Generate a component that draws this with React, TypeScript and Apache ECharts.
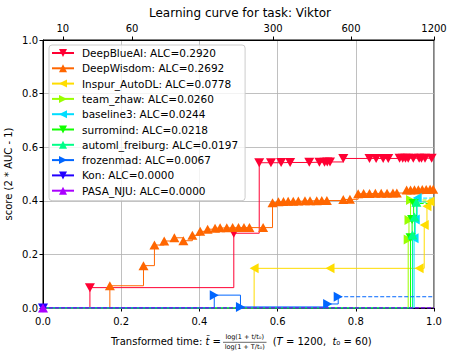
import React, { useEffect, useRef } from "react";
import * as echarts from "echarts";

// ---- data ----
const T_MAX = 1200;
const T0 = 60;
const topTickTimes = [10, 60, 300, 600, 1200];
const xTickLabels = ["0.0", "0.2", "0.4", "0.6", "0.8", "1.0"];
const yTickLabels = ["0.0", "0.2", "0.4", "0.6", "0.8", "1.0"];

const teamNames = [
  "DeepBlueAI: ALC=0.2920",
  "DeepWisdom: ALC=0.2692",
  "Inspur_AutoDL: ALC=0.0778",
  "team_zhaw: ALC=0.0260",
  "baseline3: ALC=0.0244",
  "surromind: ALC=0.0218",
  "automl_freiburg: ALC=0.0197",
  "frozenmad: ALC=0.0067",
  "Kon: ALC=0.0000",
  "PASA_NJU: ALC=0.0000",
];
const teamColors = [
  "#ff0033", "#ff6600", "#ffdd00", "#99ff00", "#00ddff",
  "#11ff00", "#00ff88", "#0066ff", "#2200ff", "#aa00ff",
];
const teamMarkers = ["down", "up", "left", "right", "left", "down", "up", "right", "down", "up"];

const deepBlueAiX = [0.12, 0.488, 0.553, 0.583, 0.609, 0.632, 0.681, 0.707, 0.72, 0.727, 0.734, 0.768, 0.835, 0.852, 0.87, 0.883, 0.912, 0.92, 0.927, 0.934, 0.947, 0.962, 0.968, 0.977, 0.994];
const deepBlueAiY = [0.076, 0.279, 0.542, 0.542, 0.543, 0.543, 0.544, 0.544, 0.544, 0.545, 0.545, 0.558, 0.558, 0.558, 0.558, 0.558, 0.559, 0.559, 0.559, 0.559, 0.559, 0.559, 0.559, 0.559, 0.559];

const deepWisdomX = [0.171, 0.257, 0.285, 0.31, 0.336, 0.359, 0.382, 0.402, 0.421, 0.44, 0.453, 0.47, 0.485, 0.5, 0.514, 0.528, 0.563, 0.587, 0.602, 0.615, 0.627, 0.64, 0.653, 0.67, 0.683, 0.7, 0.713, 0.726, 0.768, 0.785, 0.806, 0.82, 0.835, 0.85, 0.865, 0.88, 0.895, 0.905, 0.93, 0.94, 0.95, 0.96, 0.97, 0.98, 0.99, 0.998];
const deepWisdomY = [0.083, 0.158, 0.235, 0.25, 0.262, 0.251, 0.271, 0.286, 0.294, 0.298, 0.299, 0.299, 0.3, 0.3, 0.3, 0.3, 0.3, 0.393, 0.396, 0.397, 0.398, 0.398, 0.399, 0.4, 0.4, 0.4, 0.401, 0.401, 0.405, 0.406, 0.426, 0.427, 0.427, 0.428, 0.428, 0.428, 0.429, 0.429, 0.44, 0.44, 0.441, 0.441, 0.442, 0.442, 0.443, 0.443];

const inspurX = [0.54, 0.734, 0.962, 0.975, 0.982, 0.99];
const inspurY = [0.148, 0.148, 0.148, 0.31, 0.38, 0.397];

const zhawX = [0.934, 0.936, 0.94];
const zhawY = [0.256, 0.328, 0.403];

const baseline3X = [0.949, 0.952, 0.957];
const baseline3Y = [0.26, 0.33, 0.41];

const surromindX = [0.94, 0.944, 0.948];
const surromindY = [0.262, 0.33, 0.39];

const freiburgX = [0.945, 0.95, 0.955];
const freiburgY = [0.272, 0.34, 0.395];

const frozenmadX = [0.438, 0.505, 0.728, 0.755];
const frozenmadY = [0.048, 0.004, 0.015, 0.042];

const konX = [0];
const konY = [0];

const pasaX = [0];
const pasaY = [0];

const teamXs = [deepBlueAiX, deepWisdomX, inspurX, zhawX, baseline3X, surromindX, freiburgX, frozenmadX, konX, pasaX];
const teamYs = [deepBlueAiY, deepWisdomY, inspurY, zhawY, baseline3Y, surromindY, freiburgY, frozenmadY, konY, pasaY];

const FONT = "DejaVu Sans";

const transform = (t: number) => Math.log(1 + t / T0) / Math.log(1 + T_MAX / T0);
const topTickPos = topTickTimes.map(transform);

const rotations: Record<string, number> = { up: 0, down: 180, left: 90, right: -90 };

export default function App() {
  const ref = useRef<HTMLDivElement>(null);
  useEffect(() => {
    if (!ref.current) return;
    const chart = echarts.init(ref.current, null, { renderer: "svg" });

    const series: any[] = [];
    teamNames.forEach((name, i) => {
      const xs = teamXs[i];
      const ys = teamYs[i];
      const pts: any[] = xs.map((x, k) => [x, ys[k]]);
      const data: any[] = xs[0] === 0 ? pts : [{ value: [0, 0], symbol: "none" }, ...pts];
      series.push({
        name,
        type: "line",
        step: "end",
        data,
        xAxisIndex: 0,
        yAxisIndex: 0,
        symbol: "triangle",
        symbolSize: [10, 9],
        symbolRotate: rotations[teamMarkers[i]],
        showSymbol: true,
        showAllSymbol: true,
        color: teamColors[i],
        lineStyle: { width: 1, color: teamColors[i] },
        itemStyle: { color: teamColors[i] },
        emphasis: { disabled: true },
        clip: true,
      });
      const lx = xs[xs.length - 1];
      const ly = ys[ys.length - 1];
      series.push({
        name: name + "_ext",
        type: "line",
        data: [[lx, ly], [1, ly]],
        xAxisIndex: 0,
        yAxisIndex: 0,
        symbol: "none",
        lineStyle: { width: 1, color: teamColors[i], type: [4, 2] },
        emphasis: { disabled: true },
        clip: true,
      });
    });

    const option: any = {
      animation: false,
      legend: {
        data: teamNames,
        orient: "vertical",
        left: 49,
        top: 45,
        padding: [2, 7, 4, 2],
        itemWidth: 22,
        itemHeight: 10,
        itemGap: 3.3,
        backgroundColor: "rgba(255,255,255,0.8)",
        borderColor: "#cccccc",
        borderWidth: 1,
        borderRadius: 3,
        textStyle: { fontFamily: FONT, fontSize: 10.5, color: "#000", lineHeight: 12, padding: [0, 0, 0, 3] },
      },
      grid: {
        left: 43,
        right: 20,
        top: 40,
        bottom: 52,
        show: true,
        borderColor: "#000",
        borderWidth: 1,
        containLabel: false,
        outerBoundsMode: "none",
      },
      xAxis: [
        {
          type: "value",
          min: 0,
          max: 1,
          interval: 0.2,
          position: "bottom",
          axisLine: { show: true, onZero: false, lineStyle: { color: "#000", width: 1 } },
          axisTick: { show: true, length: 3.5, lineStyle: { color: "#000" } },
          axisLabel: {
            fontFamily: FONT,
            fontSize: 10,
            color: "#000",
            margin: 8,
            formatter: (v: number) => xTickLabels[Math.round(v / 0.2)] ?? "",
          },
          splitLine: { show: true, lineStyle: { color: "#b0b0b0", width: 0.8 } },
        },
        {
          type: "value",
          min: 0,
          max: 1,
          position: "top",
          axisLine: { show: true, onZero: false, lineStyle: { color: "#000", width: 1 } },
          axisTick: { show: true, length: 3.5, customValues: topTickPos, lineStyle: { color: "#000" } },
          axisLabel: {
            fontFamily: FONT,
            fontSize: 10,
            color: "#000",
            margin: 7,
            customValues: topTickPos,
            formatter: (v: number) => {
              let best = 0;
              topTickPos.forEach((p, k) => {
                if (Math.abs(p - v) < Math.abs(topTickPos[best] - v)) best = k;
              });
              return String(topTickTimes[best]);
            },
          },
          splitLine: { show: false },
        },
      ],
      yAxis: {
        type: "value",
        min: 0,
        max: 1,
        interval: 0.2,
        name: "score (2 * AUC - 1)",
        nameLocation: "middle",
        nameGap: 30,
        nameMoveOverlap: false,
        nameTextStyle: { fontFamily: FONT, fontSize: 10, color: "#000" },
        axisLine: { show: true, onZero: false, lineStyle: { color: "#000", width: 1 } },
        axisTick: { show: true, length: 3.5, lineStyle: { color: "#000" } },
        axisLabel: {
          fontFamily: FONT,
          fontSize: 10,
          color: "#000",
          margin: 5,
          formatter: (v: number) => yTickLabels[Math.round(v / 0.2)] ?? "",
        },
        splitLine: { show: true, lineStyle: { color: "#b0b0b0", width: 0.8 } },
      },
      graphic: [
        {
          type: "text",
          x: 240,
          y: 13.3,
          style: {
            text: "Learning curve for task: Viktor",
            fontFamily: FONT,
            fontSize: 12,
            fill: "#000",
            align: "center",
            verticalAlign: "middle",
          },
        },
        {
          type: "text",
          x: 221,
          y: 341.7,
          style: {
            text: "Transformed time: {it|t\u0303} =",
            rich: { it: { fontStyle: "italic", fontFamily: FONT, fontSize: 10 } },
            fontFamily: FONT,
            fontSize: 10,
            fill: "#000",
            align: "right",
            verticalAlign: "middle",
          },
        },
        {
          type: "text",
          x: 244.7,
          y: 337.3,
          style: {
            text: "log(1 + t/t\u2080)",
            fontFamily: FONT,
            fontSize: 6.5,
            fill: "#000",
            align: "center",
            verticalAlign: "middle",
          },
        },
        {
          type: "line",
          shape: { x1: 223, y1: 342.3, x2: 266.5, y2: 342.3 },
          style: { stroke: "#000", lineWidth: 0.6 },
        },
        {
          type: "text",
          x: 244.7,
          y: 346.9,
          style: {
            text: "log(1 + T/t\u2080)",
            fontFamily: FONT,
            fontSize: 6.5,
            fill: "#000",
            align: "center",
            verticalAlign: "middle",
          },
        },
        {
          type: "text",
          x: 272.7,
          y: 341.7,
          style: {
            text: "({it|T} = 1200,  {it|t}\u2080 = 60)",
            rich: { it: { fontStyle: "italic", fontFamily: FONT, fontSize: 10 } },
            fontFamily: FONT,
            fontSize: 10,
            fill: "#000",
            align: "left",
            verticalAlign: "middle",
          },
        },
      ],
      series,
    };
    chart.setOption(option);
    return () => chart.dispose();
  }, []);
  return <div ref={ref} style={{ width: 454, height: 360, position: "absolute", left: 0, top: 0, background: "#fff" }} />;
}
